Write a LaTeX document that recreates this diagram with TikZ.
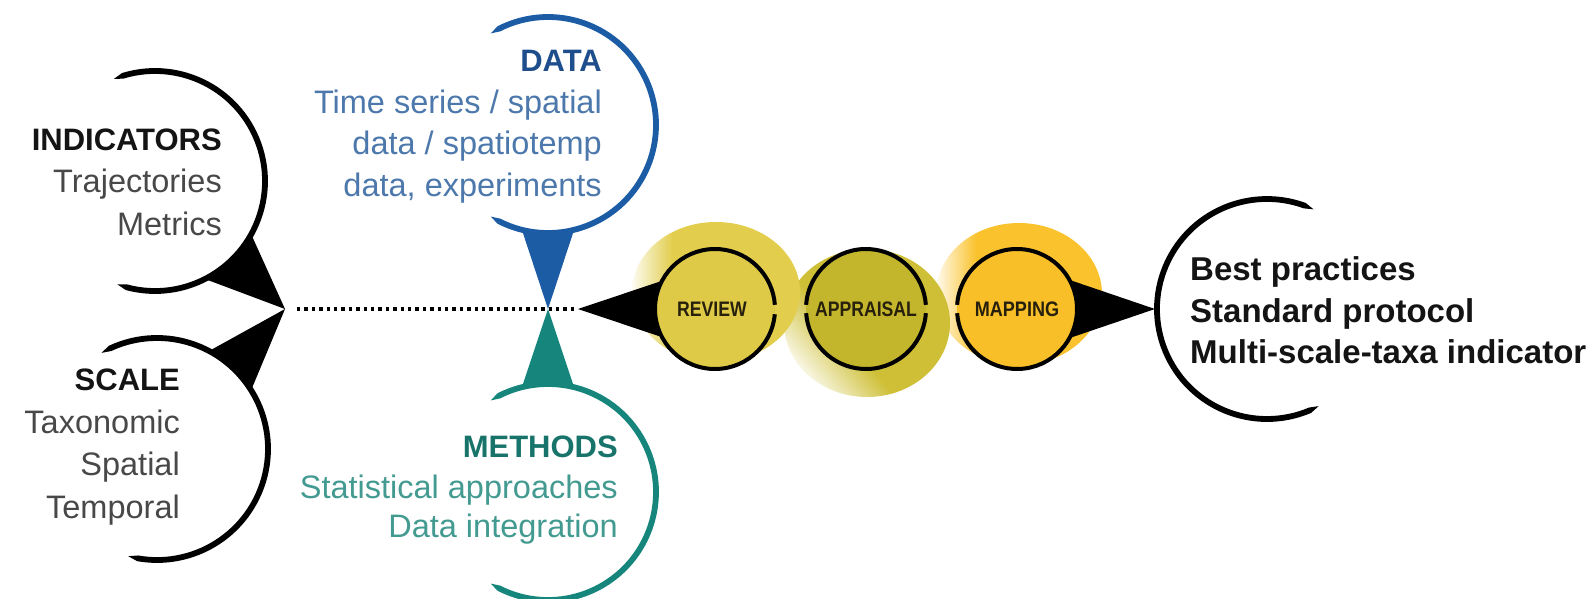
\documentclass[tikz,border=0pt]{standalone}
\usepackage{fontspec}
\setmainfont{Liberation Sans}
\usetikzlibrary{calc}
\definecolor{blueA}{RGB}{28,92,165}
\definecolor{blueT}{RGB}{30,78,140}
\definecolor{blueB}{RGB}{76,120,172}
\definecolor{tealA}{RGB}{22,134,124}
\definecolor{tealT}{RGB}{24,116,106}
\definecolor{tealB}{RGB}{66,154,144}
\definecolor{txtT}{RGB}{20,20,20}
\definecolor{txtB}{RGB}{72,72,72}
\definecolor{revF}{RGB}{222,202,70}
\definecolor{revH}{RGB}{226,206,76}
\definecolor{appF}{RGB}{196,182,44}
\definecolor{appH}{RGB}{206,191,54}
\definecolor{mapF}{RGB}{248,191,40}
\definecolor{mapH}{RGB}{250,195,46}
\definecolor{lblC}{RGB}{38,32,12}
\pgfdeclarehorizontalshading{revfade}{100bp}{color(0bp)=(revH!8); color(25bp)=(revH!8); color(37bp)=(revH); color(100bp)=(revH)}
\pgfdeclarehorizontalshading{appfade}{100bp}{color(0bp)=(appH!15); color(25bp)=(appH!15); color(42bp)=(appH); color(100bp)=(appH)}
\pgfdeclarehorizontalshading{mapfade}{100bp}{color(0bp)=(mapH!8); color(25bp)=(mapH!8); color(37bp)=(mapH); color(100bp)=(mapH)}
\newcommand\bodyfnt{\fontsize{32.5}{42}\selectfont}
\newcommand\ttlfnt{\fontsize{31}{42}\selectfont\bfseries}
\newcommand\outfnt{\fontsize{33}{41}\selectfont\bfseries}
\newcommand\lblfnt{\fontsize{21}{21}\selectfont\bfseries}
% tapered brush arc: #1 centre, #2 radius, #3 start angle, #4 end angle, #5 colour
\newcommand\brusharc[5]{%
  \fill[#5] ($(#1)+({#3}:{#2+2.9})$) arc[start angle={#3}, end angle={#4}, radius={#2+2.9}]
    -- ($(#1)+({#4+5}:{#2})$)
    -- ($(#1)+({#4}:{#2-2.9})$) arc[start angle={#4}, end angle={#3}, radius={#2-2.9}]
    -- ($(#1)+({#3-5}:{#2})$) -- cycle;}
\begin{document}
\begin{tikzpicture}[x=1pt,y=-1pt,
  ringline/.style={line width=4pt, black},
  ringnode/.style={circle, minimum size=120pt, inner sep=0pt, draw=none},
  dotline/.style={line width=3.4pt, dash pattern=on 3.4pt off 4pt},
  ttl/.style={inner sep=0pt, font=\ttlfnt, anchor=base east},
  bdy/.style={inner sep=0pt, font=\bodyfnt, anchor=base east},
  outtxt/.style={inner sep=0pt, font=\outfnt, text=txtT, anchor=base west},
  lbl/.style={inner sep=0pt, font=\lblfnt, text=lblC}
]
\useasboundingbox (0,0) rectangle (1593,599);

% centres and tips
\coordinate (cI) at (155,181);
\coordinate (cS) at (157,449);
\coordinate (cD) at (548,125);
\coordinate (cM) at (548,492);
\coordinate (cO) at (1267,309);
\coordinate (tL) at (285,309);
\coordinate (tC) at (548,309);
\coordinate (tRev) at (578,309);
\coordinate (tR) at (1155,309);

% halos
\shade[shading=mapfade] (1019,294) ellipse[x radius=83, y radius=71];
\shade[shading=appfade, shading angle=40] (867,323) ellipse[x radius=83, y radius=74];
\shade[shading=revfade] (716,292) ellipse[x radius=84, y radius=70];

% rings
\node[ringnode, fill=revF] (rev) at (715,309) {};
\node[ringnode, fill=appF] (app) at (866,309) {};
\node[ringnode, fill=mapF] (map) at (1017,309) {};
\draw[ringline] ($(rev)+(5:60)$) arc[start angle=5, end angle=356, radius=60];
\draw[ringline] ($(app)+(4:60)$) arc[start angle=4, end angle=176, radius=60];
\draw[ringline] ($(app)+(184:60)$) arc[start angle=184, end angle=356, radius=60];
\draw[ringline] ($(map)+(184:60)$) arc[start angle=184, end angle=536, radius=60];
\node[lbl] (revl) at (712,309) {\scalebox{0.84}[1]{REVIEW}};
\node[lbl] (appl) at (866,309) {\scalebox{0.84}[1]{APPRAISAL}};
\node[lbl] (mapl) at (1017,309) {\scalebox{0.86}[1]{MAPPING}};

% dotted line
\draw[dotline] ($(tL)+(12,0)$) -- (tRev);

% left bubbles
\brusharc{cI}{110}{-107}{105}{black}
\fill ($(cI)+(29:110)$) -- (tL) -- ($(cI)+(63:110)$) arc[start angle=63, end angle=29, radius=110] -- cycle;
\brusharc{cS}{111}{-115}{100}{black}
\fill ($(cS)+(-62:111)$) -- (tL) -- ($(cS)+(-32:111)$) arc[start angle=-32, end angle=-62, radius=111] -- cycle;

% data bubble
\brusharc{cD}{108}{-117}{117}{blueA}
\fill[blueA] ($(cD)+(76:108)$) -- (tC) -- ($(cD)+(104:108)$) arc[start angle=104, end angle=76, radius=108] -- cycle;

% methods bubble
\brusharc{cM}{108}{-117}{117}{tealA}
\fill[tealA] ($(cM)+(-104:108)$) -- (tC) -- ($(cM)+(-76:108)$) arc[start angle=-76, end angle=-104, radius=108] -- cycle;

% review / mapping pointers
\fill ($(rev)+(152:60)$) -- (tRev) -- ($(rev)+(208:60)$) arc[start angle=208, end angle=152, radius=60] -- cycle;
\fill ($(map)+(-29:60)$) -- (tR) -- ($(map)+(29:60)$) arc[start angle=29, end angle=-29, radius=60] -- cycle;

% output bubble
\brusharc{cO}{110}{67}{290}{black}

% texts
\node[ttl, text=txtT] (ind1) at (222,150) {INDICATORS};
\node[bdy, text=txtB] (ind2) at (222,193) {Trajectories};
\node[bdy, text=txtB] (ind3) at (222,235) {Metrics};

\node[ttl, text=txtT] (sc1) at (180,390) {SCALE};
\node[bdy, text=txtB] (sc2) at (180,433) {Taxonomic};
\node[bdy, text=txtB] (sc3) at (180,475) {Spatial};
\node[bdy, text=txtB] (sc4) at (180,518) {Temporal};

\node[ttl, text=blueT] (d1) at (602,72) {DATA};
\node[bdy, text=blueB] (d2) at (602,114) {Time series / spatial};
\node[bdy, text=blueB] (d3) at (602,155) {data / spatiotemp};
\node[bdy, text=blueB] (d4) at (602,196) {data, experiments};

\node[ttl, text=tealT] (m1) at (618,457) {METHODS};
\node[bdy, text=tealB] (m2) at (618,498) {Statistical approaches};
\node[bdy, text=tealB] (m3) at (618,537) {Data integration};

\node[outtxt] (o1) at (1190,280) {Best practices};
\node[outtxt] (o2) at (1190,322) {Standard protocol};
\node[outtxt] (o3) at (1190,363) {Multi-scale-taxa indicator};
\end{tikzpicture}
\end{document}
